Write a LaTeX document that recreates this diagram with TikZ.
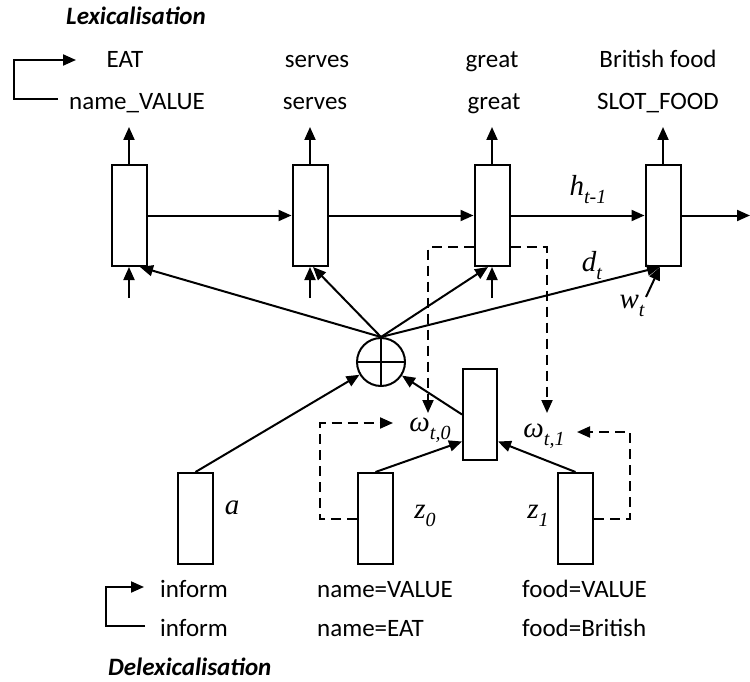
\documentclass[tikz,border=0pt]{standalone}
\usepackage{fontspec}
\setmainfont{Carlito}
\newfontfamily\tms{Liberation Serif}
\usetikzlibrary{arrows.meta}
\newcommand\ml[2]{{\tms\itshape #1\raisebox{-8pt}{\fontsize{20}{20}\selectfont #2}}}
\begin{document}
\begin{tikzpicture}[x=1pt,y=-1pt,
  every node/.style={font=\fontsize{25}{30}\selectfont},
  txt/.style={inner sep=0, anchor=base},
  txtw/.style={inner sep=0, anchor=base west},
  ttl/.style={inner sep=0, anchor=base west, font=\fontsize{25}{30}\selectfont\bfseries\itshape},
  lbl/.style={inner sep=0, font=\fontsize{29}{33}\selectfont},
  cell/.style={draw, line width=2pt, fill=white, minimum width=35pt, minimum height=101pt, inner sep=0},
  lcell/.style={draw, line width=2pt, fill=white, minimum width=35pt, minimum height=91pt, inner sep=0},
  arr/.style={line width=2pt, -{Triangle[length=13pt,width=11pt]}},
  ln/.style={line width=2pt},
  dsh/.style={line width=2pt, dash pattern=on 10pt off 6pt, -{Triangle[length=13pt,width=11pt]}}]
\useasboundingbox (0,0) rectangle (750,682);

% titles
\node[ttl] (lex) at (66,25) {Lexicalisation};
\node[ttl] (delex) at (108,675) {Delexicalisation};

% top texts
\node[txt] (e1) at (125,68) {EAT};
\node[txt] (e2) at (317,68) {serves};
\node[txt] (e3) at (492,68) {great};
\node[txt] (e4) at (658,68) {British food};
\node[txt] (d1) at (137,110) {name\_VALUE};
\node[txt] (d2) at (315,110) {serves};
\node[txt] (d3) at (494,110) {great};
\node[txt] (d4) at (658,110) {SLOT\_FOOD};

% top bracket
\coordinate (tb0) at (58,99);
\coordinate (tb1) at (14,99);
\coordinate (tb2) at (14,60);
\coordinate (tb3) at (76,60);
\draw[arr] (tb0) -- (tb1) -- (tb2) -- (tb3);

% bottom texts
\node[txtw] (i1) at (160,597) {inform};
\node[txtw] (i2) at (160,636) {inform};
\node[txtw] (n1) at (317,597) {name=VALUE};
\node[txtw] (n2) at (317,636) {name=EAT};
\node[txtw] (f1) at (522,597) {food=VALUE};
\node[txtw] (f2) at (522,636) {food=British};

% bottom bracket
\coordinate (bb0) at (145,626);
\coordinate (bb1) at (106,626);
\coordinate (bb2) at (106,587);
\coordinate (bb3) at (144,587);
\draw[arr] (bb0) -- (bb1) -- (bb2) -- (bb3);

% top cells
\node[cell] (b1) at (129,215.5) {};
\node[cell] (b2) at (310,215.5) {};
\node[cell] (b3) at (492,215.5) {};
\node[cell] (b4) at (663,215.5) {};

\coordinate (up) at (0,127);
\coordinate (low) at (0,298);
\foreach \b in {b1,b2,b4}{\draw[arr] (\b.north) -- (\b.north |- up);}
\foreach \b in {b1,b2}{\draw[arr] (\b.south |- low) -- (\b.south);}
\coordinate (rend) at (750,215.5);
\draw[arr] (b1.east) -- (b2.west);
\draw[arr] (b2.east) -- (b3.west);
\draw[arr] (b3.east) -- (b4.west);
\draw[arr] (b4.east) -- (rend);
\node[lbl] (hl) at (588,190) {\ml{h}{t-1}};

% dashed from b3
\coordinate (o0tip) at (428,413);
\coordinate (o1tip) at (547,413);
\draw[dsh] ([yshift=-31.5pt]b3.west) -| (o0tip);
\draw[dsh] ([yshift=-31.5pt]b3.east) -| (o1tip);
\node[cell] at (b3) {};
\draw[arr] (b3.north) -- (b3.north |- up);
\draw[arr] (b3.south |- low) -- (b3.south);

% circle plus
\node[draw, circle, line width=2pt, minimum size=48pt, inner sep=0] (cp) at (381,362) {};
\draw[ln] (cp.north) -- (cp.south);
\draw[ln] (cp.west) -- (cp.east);

\draw[arr] (cp.north) -- ([xshift=11pt]b1.south);
\draw[arr] (cp.north) -- ([xshift=3pt]b2.south);
\draw[arr] (cp.north) -- ([xshift=-4pt]b3.south);
\draw[arr] (cp.north) -- ([xshift=-3pt]b4.south);
\node[lbl] (dl) at (592,266) {\ml{d}{t}};
\node[lbl] (wl) at (632,306) {\ml{w}{t}};
\coordinate (ws) at (646,297);
\draw[arr] (ws) -- ([xshift=-3pt]b4.south);

% lower cells
\node[lcell] (ba) at (195.5,518.5) {};
\node[lcell] (bz0) at (375.5,518.5) {};
\node[lcell] (bz1) at (575.5,518.5) {};
\node[lcell, minimum width=34pt] (bm) at (480,414.5) {};

\node[lbl] (la) at (232,512) {\ml{a}{}};
\node[lbl] (lz0) at (425,516) {\ml{z}{0}};
\node[lbl] (lz1) at (538,516) {\ml{z}{1}};
\node[lbl] (lo0) at (430,430) {\ml{\char"03C9}{t,0}};
\node[lbl] (lo1) at (544,436) {\ml{\char"03C9}{t,1}};

\draw[arr] (ba.north) -- (cp);
\draw[arr] (bm.west) -- (cp);
\draw[arr] (bz0.north) -- ([yshift=-27pt]bm.west);
\draw[arr] (bz1.north) -- ([yshift=-27pt]bm.east);

% dashed loops
\coordinate (l0c) at (320,423);
\coordinate (l0tip) at (393,423);
\draw[dsh] (bz0.west) -| (l0c) -- (l0tip);
\coordinate (l1c) at (630,432);
\coordinate (l1tip) at (577,432);
\draw[dsh] (bz1.east) -| (l1c) -- (l1tip);
\end{tikzpicture}
\end{document}
